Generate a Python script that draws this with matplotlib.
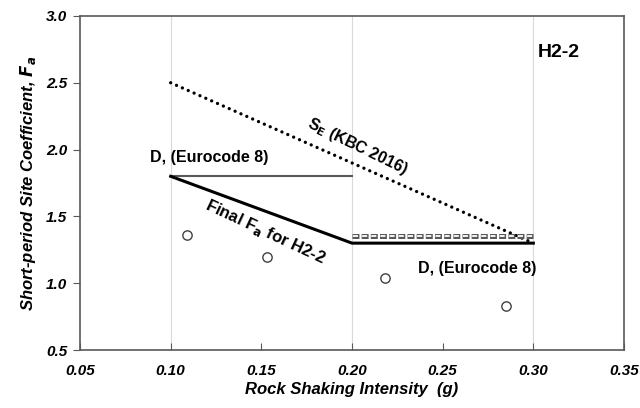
import matplotlib
matplotlib.use("Agg")
import matplotlib.pyplot as plt

plt.rcParams['font.family'] = ['Liberation Sans', 'DejaVu Sans']
plt.rcParams['lines.scale_dashes'] = False

# Data
se_x = [0.10, 0.30]
se_y = [2.50, 1.30]
ec_top_x = [0.10, 0.20]
ec_top_y = [1.80, 1.80]
final_x = [0.10, 0.20, 0.30]
final_y = [1.80, 1.30, 1.30]
ec_low_x = [0.20, 0.30]
ec_low_y = [1.35, 1.35]
obs_x = [0.109, 0.153, 0.218, 0.285]
obs_y = [1.36, 1.20, 1.04, 0.83]
xticks = [0.05, 0.10, 0.15, 0.20, 0.25, 0.30, 0.35]
yticks = [0.5, 1.0, 1.5, 2.0, 2.5, 3.0]
grid_x = [0.10, 0.20, 0.30]

fig = plt.figure(figsize=(6.4, 4.08), dpi=100)
ax = fig.add_axes([0.125, 0.142, 0.850, 0.819])

for gx in grid_x:
    ax.axvline(gx, color='#d9d9d9', lw=0.8, zorder=0)

ax.plot(se_x, se_y, color='black', lw=2.4, linestyle=(0, (0.01, 4.6)), dash_capstyle='round', zorder=3)
ax.plot(ec_top_x, ec_top_y, color='#595959', lw=1.5, zorder=3)
ax.plot(final_x, final_y, color='black', lw=2.2, zorder=4)
ax.plot(ec_low_x, ec_low_y, color='#595959', lw=3.6, linestyle=(0, (5.0, 1.6)), zorder=3)
ax.plot(ec_low_x, ec_low_y, color='white', lw=1.3, linestyle=(5.9, (3.6, 3.0)), zorder=3.5)
ax.scatter(obs_x, obs_y, s=45, facecolors='white', edgecolors='#404040', linewidths=1.0, zorder=5)

ax.set_xlim(0.05, 0.35)
ax.set_ylim(0.5, 3.0)
ax.set_xticks(xticks)
ax.set_yticks(yticks)
ax.set_xticklabels([f"{v:.2f}" for v in xticks], fontsize=11, fontweight='bold', fontstyle='italic')
ax.set_yticklabels([f"{v:.1f}" for v in yticks], fontsize=11, fontweight='bold', fontstyle='italic')
ax.tick_params(axis='x', direction='in', length=5, color='#595959', pad=10)
ax.tick_params(axis='y', direction='out', length=5, color='#595959', pad=4)
for s in ['left', 'bottom', 'top', 'right']:
    ax.spines[s].set_color('#595959')
    ax.spines[s].set_linewidth(1.2)

ax.set_xlabel('Rock Shaking Intensity  (g)', fontsize=12, fontweight='bold', fontstyle='italic', labelpad=3)
ax.set_ylabel('Short-period Site Coefficient, $\\mathbfit{F_a}$', fontsize=12, fontweight='bold', fontstyle='italic', labelpad=6)

ax.text(0.314, 2.73, 'H2-2', fontsize=14, fontweight='bold', ha='center', va='center')
ax.text(0.121, 1.94, 'D, (Eurocode 8)', fontsize=11.5, fontweight='bold', ha='center', va='center')
ax.text(0.269, 1.11, 'D, (Eurocode 8)', fontsize=11.5, fontweight='bold', ha='center', va='center')
ax.text(0.203, 2.02, 'S$_\\mathbf{E}$ (KBC 2016)', fontsize=11.5, fontweight='bold', ha='center', va='center', rotation=-26, rotation_mode='anchor')
ax.text(0.152, 1.38, 'Final F$_\\mathbf{a}$ for H2-2', fontsize=12, fontweight='bold', ha='center', va='center', rotation=-25, rotation_mode='anchor')

fig.savefig('out.png', dpi=100)
